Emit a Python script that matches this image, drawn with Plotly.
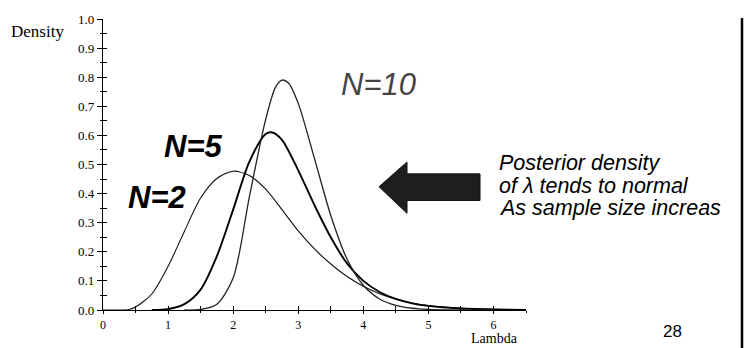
import plotly.graph_objects as go

# Posterior density curves for lambda, read at sample sizes N = 2, 5, 10
lam_n2 = [0.0, 0.25, 0.4, 0.5, 0.75, 1.0, 1.25, 1.5, 1.75, 2.0, 2.25, 2.5, 2.75, 3.0,
          3.25, 3.5, 3.75, 4.0, 4.25, 4.5, 4.75, 5.0, 5.5, 6.0, 6.5]
dens_n2 = [0.0, 0.0, 0.002, 0.01, 0.055, 0.15, 0.27, 0.385, 0.452, 0.477, 0.462, 0.415,
           0.345, 0.272, 0.21, 0.158, 0.115, 0.082, 0.056, 0.037, 0.024, 0.015, 0.006,
           0.002, 0.0]

lam_n5 = [0.75, 1.0, 1.25, 1.5, 1.75, 2.0, 2.25, 2.5, 2.6, 2.75, 3.0, 3.25, 3.5, 3.75,
          4.0, 4.25, 4.5, 4.75, 5.0, 5.5, 6.0, 6.5]
dens_n5 = [0.0, 0.003, 0.02, 0.07, 0.185, 0.345, 0.51, 0.605, 0.61, 0.585, 0.48, 0.36,
           0.25, 0.16, 0.1, 0.062, 0.038, 0.023, 0.014, 0.005, 0.0015, 0.0]

lam_n10 = [1.25, 1.5, 1.75, 2.0, 2.25, 2.5, 2.65, 2.75, 2.85, 3.0, 3.25, 3.5, 3.75, 4.0,
           4.25, 4.5, 4.75, 5.0, 5.5, 6.0]
dens_n10 = [0.0, 0.002, 0.02, 0.11, 0.39, 0.655, 0.765, 0.79, 0.78, 0.71, 0.52, 0.325,
            0.175, 0.085, 0.038, 0.016, 0.006, 0.002, 0.0, 0.0]

x_ticks = [0, 1, 2, 3, 4, 5, 6]
x_tick_text = ["0", "1", "2", "3", "4", "5", "6"]
y_ticks = [0.0, 0.1, 0.2, 0.3, 0.4, 0.5, 0.6, 0.7, 0.8, 0.9, 1.0]

W, H = 744, 348
L, R, T, B = 103, 218, 15, 38
PW, PH = W - L - R, H - T - B


def px(x):
    return (x - L) / PW


def py(y):
    return (H - B - y) / PH


SERIF = "Liberation Serif, Times New Roman, serif"
SANS = "Liberation Sans, Arial, sans-serif"

fig = go.Figure()
fig.add_trace(go.Scatter(x=lam_n2, y=dens_n2, mode="lines",
                         line=dict(color="#111", width=1.1, shape="spline", smoothing=0.8)))
fig.add_trace(go.Scatter(x=lam_n5, y=dens_n5, mode="lines",
                         line=dict(color="#000", width=1.9, shape="spline", smoothing=0.8)))
fig.add_trace(go.Scatter(x=lam_n10, y=dens_n10, mode="lines",
                         line=dict(color="#222", width=1.3, shape="spline", smoothing=0.8)))

axis_common = dict(showgrid=False, zeroline=False, linecolor="#000", linewidth=1.3,
                   tickcolor="#000", tickwidth=1.3)

fig.update_layout(
    width=W, height=H,
    margin=dict(l=L, r=R, t=T, b=B, pad=0),
    paper_bgcolor="white", plot_bgcolor="white",
    showlegend=False,
    xaxis=dict(range=[0, 6.5], tickvals=x_ticks, ticktext=x_tick_text,
               ticks="outside", ticklen=3, showline=True,
               minor=dict(ticks="outside", ticklen=2, dtick=0.5, tick0=0,
                          tickcolor="#000", tickwidth=1.2),
               tickfont=dict(family=SERIF, size=12, color="#000"),
               **axis_common),
    yaxis=dict(range=[0, 1.0], tickvals=y_ticks, tickformat=".1f",
               ticks="outside", ticklen=5, showline=True,
               minor=dict(ticks="outside", ticklen=2, dtick=0.05, tick0=0,
                          tickcolor="#000", tickwidth=1.2),
               tickfont=dict(family=SERIF, size=13, color="#000"),
               **axis_common),
    # inner halves of the crossing tick marks
    xaxis2=dict(range=[0, 6.5], overlaying="x", anchor="y", side="bottom",
                tickvals=[0.5 * i for i in range(14)], ticks="inside", ticklen=4,
                showticklabels=False, showline=False, showgrid=False, zeroline=False,
                tickcolor="#000", tickwidth=1.3),
    yaxis2=dict(range=[0, 1.0], overlaying="y", anchor="x", side="left",
                tickvals=[0.05 * i for i in range(21)], ticks="inside", ticklen=4,
                showticklabels=False, showline=False, showgrid=False, zeroline=False,
                tickcolor="#000", tickwidth=1.3),
)
fig.add_trace(go.Scatter(x=[None], y=[None], xaxis="x2", yaxis="y2", showlegend=False))

# big left-pointing arrow
arrow = [(379, 185), (407, 160), (407, 172), (480, 172), (480, 199), (407, 199), (407, 212)]
path = "M " + " L ".join(f"{px(a):.4f},{py(b):.4f}" for a, b in arrow) + " Z"
fig.add_shape(type="path", path=path, xref="paper", yref="paper",
              fillcolor="#1e1e1e", line=dict(color="#111", width=1))

# slide border on the right
fig.add_shape(type="line", xref="paper", yref="paper",
              x0=px(742), x1=px(742), y0=py(14), y1=py(350),
              line=dict(color="#000", width=2.5))


def note(text, x, y, font, xanchor="center"):
    fig.add_annotation(text=text, x=px(x), y=py(y), xref="paper", yref="paper",
                       xanchor=xanchor, yanchor="middle", showarrow=False, font=font,
                       borderpad=0)


note("Density", 37, 28, dict(family=SERIF, size=17, color="#000"))
note("Lambda", 494, 339, dict(family=SERIF, size=14, color="#000"))
note("28", 672, 332, dict(family=SANS, size=17, color="#000"))
note("<i>N=10</i>", 378, 81, dict(family=SANS, size=31, color="#444"))
note("<b><i>N=5</i></b>", 193, 144, dict(family=SANS, size=31, color="#000"))
note("<b><i>N=2</i></b>", 157, 196, dict(family=SANS, size=31, color="#000"))
note("<i>Posterior density</i>", 498, 161, dict(family=SANS, size=21.5, color="#000"), "left")
note("<i>of λ tends to normal</i>", 498, 184, dict(family=SANS, size=21.5, color="#000"), "left")
note("<i>As sample size increas</i>", 498, 207, dict(family=SANS, size=21.5, color="#000"), "left")

fig.write_html("out.html")
